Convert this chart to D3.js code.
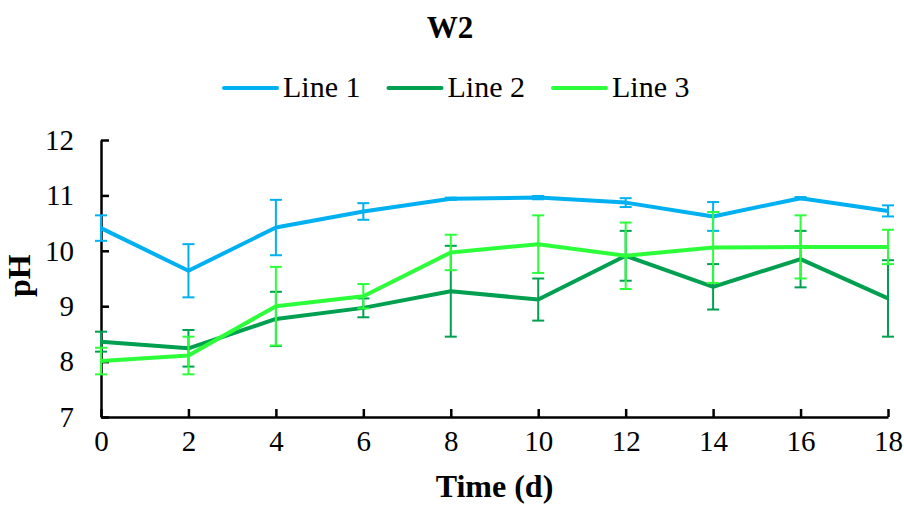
<!DOCTYPE html>
<html>
<head>
<meta charset="utf-8">
<script src="https://cdn.jsdelivr.net/npm/d3@7"></script>
<style>
  body { margin: 0; background: #fff; }
  text { font-family: "Liberation Serif", serif; fill: #000; }
</style>
</head>
<body>
<div id="chart"></div>
<script>
// Data
const days = [0, 2, 4, 6, 8, 10, 12, 14, 16, 18];
const line1 = [10.41, 9.64, 10.42, 10.71, 10.94, 10.96, 10.87, 10.62, 10.95, 10.72];
const line1Err = [0.23, 0.48, 0.5, 0.15, 0.02, 0.03, 0.08, 0.26, 0.02, 0.1];
const line2 = [8.36, 8.24, 8.77, 8.97, 9.27, 9.12, 9.91, 9.35, 9.85, 9.14];
const line2Err = [0.18, 0.33, 0.49, 0.17, 0.82, 0.38, 0.45, 0.41, 0.51, 0.69];
const line3 = [8.01, 8.11, 9.0, 9.18, 9.97, 10.12, 9.91, 10.06, 10.07, 10.07];
const line3Err = [0.24, 0.34, 0.71, 0.22, 0.32, 0.52, 0.6, 0.64, 0.57, 0.31];
const seriesNames = ['Line 1', 'Line 2', 'Line 3'];
const seriesColors = ['#00B0F0', '#00A050', '#2CFF3A'];
const yTicks = [7, 8, 9, 10, 11, 12];
const xTicks = [0, 2, 4, 6, 8, 10, 12, 14, 16, 18];

const series = [
  { name: seriesNames[0], color: seriesColors[0], values: line1, err: line1Err },
  { name: seriesNames[1], color: seriesColors[1], values: line2, err: line2Err },
  { name: seriesNames[2], color: seriesColors[2], values: line3, err: line3Err }
];

const width = 904;
const height = 506;
const margin = { top: 140, right: 16, bottom: 89, left: 101 };

const svg = d3.select('#chart')
  .append('svg')
  .attr('width', width)
  .attr('height', height);

const x = d3.scaleLinear()
  .domain([0, 18])
  .range([margin.left, width - margin.right]);

const y = d3.scaleLinear()
  .domain([7, 12])
  .range([height - margin.bottom, margin.top]);

// title
svg.append('text')
  .attr('x', 450)
  .attr('y', 38)
  .attr('text-anchor', 'middle')
  .style('font-size', '31px')
  .style('font-weight', 'bold')
  .text('W2');

// legend
const legend = svg.append('g');
let lx = 224;
series.forEach(s => {
  const g = legend.append('g').attr('transform', `translate(${lx}, 88)`);
  g.append('line')
    .attr('x1', 0).attr('x2', 53)
    .attr('stroke', s.color)
    .attr('stroke-width', 4)
    .attr('stroke-linecap', 'round');
  const t = g.append('text')
    .attr('x', 59)
    .attr('y', 9)
    .style('font-size', '30px')
    .text(s.name);
  lx += 59 + t.node().getComputedTextLength() + 28;
});

// axes
const yAxis = svg.append('g')
  .attr('transform', `translate(${margin.left}, 0)`)
  .call(d3.axisLeft(y).tickValues(yTicks).tickFormat(d3.format('d'))
    .tickSizeInner(-8).tickSizeOuter(0).tickPadding(27));

const xAxis = svg.append('g')
  .attr('transform', `translate(0, ${height - margin.bottom})`)
  .call(d3.axisBottom(x).tickValues(xTicks).tickFormat(d3.format('d'))
    .tickSizeInner(-8).tickSizeOuter(0).tickPadding(13));

[yAxis, xAxis].forEach(a => {
  a.select('.domain').attr('stroke', '#000').attr('stroke-width', 2.5);
  a.selectAll('.tick line').attr('stroke', '#000').attr('stroke-width', 2.5);
  a.selectAll('.tick text').style('font-size', '29px').attr('fill', '#000');
});

// axis titles
svg.append('text')
  .attr('x', x(9))
  .attr('y', 497)
  .attr('text-anchor', 'middle')
  .style('font-size', '32px')
  .style('font-weight', 'bold')
  .text('Time (d)');

svg.append('text')
  .attr('transform', `translate(30, ${y(9.55)}) rotate(-90)`)
  .attr('text-anchor', 'middle')
  .style('font-size', '32px')
  .style('font-weight', 'bold')
  .text('pH');

// lines
const line = d3.line()
  .x((d, i) => x(days[i]))
  .y(d => y(d));

series.forEach(s => {
  svg.append('path')
    .datum(s.values)
    .attr('fill', 'none')
    .attr('stroke', s.color)
    .attr('stroke-width', 4)
    .attr('stroke-linejoin', 'round')
    .attr('d', line);

  const eb = svg.append('g')
    .attr('stroke', s.color)
    .attr('stroke-width', 2);
  s.values.forEach((v, i) => {
    const cx = x(days[i]);
    const top = y(v + s.err[i]);
    const bot = y(v - s.err[i]);
    eb.append('line').attr('x1', cx).attr('x2', cx).attr('y1', top).attr('y2', bot);
    eb.append('line').attr('x1', cx - 6).attr('x2', cx + 6).attr('y1', top).attr('y2', top);
    eb.append('line').attr('x1', cx - 6).attr('x2', cx + 6).attr('y1', bot).attr('y2', bot);
  });
});
</script>
</body>
</html>
